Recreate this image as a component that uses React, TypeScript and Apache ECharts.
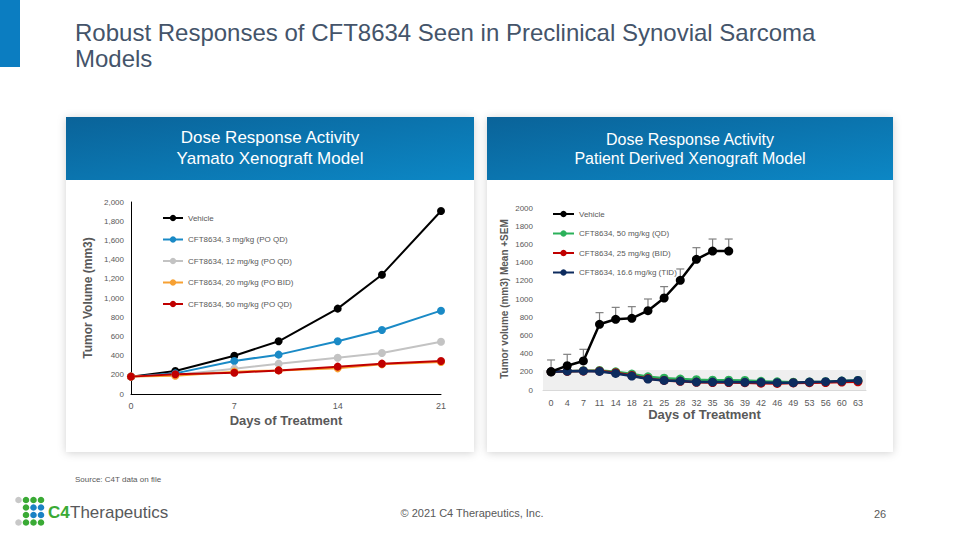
import React, { useEffect, useRef } from "react";
import * as echarts from "echarts";

// ---------- Left chart (Yamato Xenograft) ----------
const leftDays = [0, 3, 7, 10, 14, 17, 21];
const leftVehicle = [181, 240, 399, 549, 889, 1243, 1906];
const left3mg = [181, 215, 344, 410, 549, 667, 868];
const left12mg = [181, 198, 264, 316, 378, 427, 545];
const left20mg = [181, 191, 233, 246, 267, 309, 333];
const left50mg = [181, 205, 222, 246, 285, 316, 344];
const leftNames = [
  "Vehicle",
  "CFT8634, 3 mg/kg (PO QD)",
  "CFT8634, 12 mg/kg (PO QD)",
  "CFT8634, 20 mg/kg (PO BID)",
  "CFT8634, 50 mg/kg (PO QD)",
];
const leftColors = ["#000000", "#1a8ac6", "#c3c3c3", "#f7a133", "#c00000"];

// ---------- Right chart (PDX) ----------
const rightDays = ["0", "4", "7", "11", "14", "18", "21", "25", "28", "32", "35", "36", "39", "42", "46", "49", "53", "56", "60", "63"];
const rightVehicle = [201, 267, 319, 722, 777, 788, 872, 1011, 1205, 1436, 1527, 1527];
const rightVehicleUpper = [330, 392, 447, 850, 908, 916, 1000, 1136, 1330, 1564, 1659, 1659];
const right50QD = [200, 207, 212, 215, 200, 175, 145, 130, 120, 113, 108, 108, 105, 95, 90, 85, 88, 92, 98, 105];
const right25BID = [200, 205, 208, 208, 190, 160, 125, 105, 95, 85, 82, 82, 80, 75, 72, 78, 80, 82, 88, 90];
const right16TID = [200, 207, 210, 204, 182, 153, 120, 105, 98, 87, 87, 87, 84, 84, 80, 80, 87, 91, 98, 105];
const rightNames = ["Vehicle ", "CFT8634, 50 mg/kg (QD)", "CFT8634, 25 mg/kg (BID)", "CFT8634, 16.6 mg/kg (TID)"];
const rightColors = ["#000000", "#2bb15a", "#c00000", "#0d2b5e"];
const shadedBand = [0, 220];

const gray = "#595959";

export default function App() {
  const ref = useRef<HTMLDivElement>(null);

  useEffect(() => {
    if (!ref.current) return;
    const chart = echarts.init(ref.current, undefined, { renderer: "svg" });

    const headerGrad = new echarts.graphic.LinearGradient(0, 0, 1, 1, [
      { offset: 0, color: "#0a6399" },
      { offset: 1, color: "#0c87c5" },
    ]);

    const logoDots: any[] = [];
    const dotRows = [
      ["#c8c8c8", "#3aaa35", "#3aaa35", "#3aaa35"],
      [null, "#3aaa35", "#1a82c4", "#1a82c4"],
      [null, "#3aaa35", "#1a82c4", "#1a82c4"],
      ["#c8c8c8", "#3aaa35", "#3aaa35", "#3aaa35"],
    ];
    dotRows.forEach((row, r) =>
      row.forEach((c, ci) => {
        if (!c) return;
        logoDots.push({
          type: "circle",
          shape: { cx: 18.5 + ci * 7.5, cy: 500 + r * 7.5, r: 3.3 },
          style: { fill: c },
        });
      })
    );

    const leftSeries = [leftVehicle, left3mg, left12mg, left20mg, left50mg].map((vals, i) => ({
      name: leftNames[i],
      type: "line",
      xAxisIndex: 0,
      yAxisIndex: 0,
      data: vals.map((v, k) => [leftDays[k], v]),
      symbol: "circle",
      symbolSize: 8,
      lineStyle: { width: 2, color: leftColors[i] },
      itemStyle: { color: leftColors[i] },
    }));

    const rightLineSeries = [rightVehicle, right50QD, right25BID, right16TID].map((vals, i) => ({
      name: rightNames[i],
      type: "line",
      xAxisIndex: 1,
      yAxisIndex: 1,
      data: vals,
      symbol: "circle",
      symbolSize: 9,
      z: i === 0 ? 5 : 3 + i * 0.1,
      lineStyle: { width: 2.5, color: rightColors[i] },
      itemStyle: { color: rightColors[i] },
      markArea:
        i === 1
          ? {
              silent: true,
              itemStyle: { color: "#efefef" },
              data: [[{ yAxis: shadedBand[0] }, { yAxis: shadedBand[1] }]],
            }
          : undefined,
    }));

    const errorSeries = {
      type: "custom",
      xAxisIndex: 1,
      yAxisIndex: 1,
      z: 2,
      silent: true,
      encode: { x: 0, y: [1, 2] },
      data: rightVehicle.map((v, k) => [k, v, rightVehicleUpper[k]]),
      renderItem: (params: any, api: any) => {
        const x = api.value(0);
        const p0 = api.coord([x, api.value(1)]);
        const p1 = api.coord([x, api.value(2)]);
        const st = { stroke: "#808080", lineWidth: 1.2 };
        return {
          type: "group",
          children: [
            { type: "line", shape: { x1: p0[0], y1: p0[1], x2: p1[0], y2: p1[1] }, style: st },
            { type: "line", shape: { x1: p1[0] - 4, y1: p1[1], x2: p1[0] + 4, y2: p1[1] }, style: st },
          ],
        };
      },
    };

    const option: any = {
      animation: false,
      backgroundColor: "#ffffff",
      textStyle: { fontFamily: "Liberation Sans, Arial, sans-serif" },
      graphic: [
        { type: "rect", shape: { x: 0, y: 0, width: 20, height: 67 }, style: { fill: "#0b7dc1" }, z: -10 },
        {
          type: "text",
          x: 75,
          y: 19,
          style: {
            text: "Robust Responses of CFT8634 Seen in Preclinical Synovial Sarcoma\nModels",
            fill: "#44546a",
            font: "24px Liberation Sans, Arial, sans-serif",
            lineHeight: 26,
          },
          z: -10,
        },
        // panels
        {
          type: "rect",
          shape: { x: 66, y: 117, width: 408, height: 335 },
          style: { fill: "#ffffff", shadowBlur: 8, shadowColor: "rgba(0,0,0,0.18)", shadowOffsetY: 1 },
          z: -20,
        },
        {
          type: "rect",
          shape: { x: 487, y: 117, width: 406, height: 335 },
          style: { fill: "#ffffff", shadowBlur: 8, shadowColor: "rgba(0,0,0,0.18)", shadowOffsetY: 1 },
          z: -20,
        },
        { type: "rect", shape: { x: 66, y: 117, width: 408, height: 63 }, style: { fill: headerGrad }, z: -15 },
        { type: "rect", shape: { x: 487, y: 117, width: 406, height: 63 }, style: { fill: headerGrad }, z: -15 },
        {
          type: "text",
          x: 270,
          y: 148,
          style: {
            text: "Dose Response Activity\nYamato Xenograft Model",
            fill: "#ffffff",
            font: "17px Liberation Sans, Arial, sans-serif",
            lineHeight: 21,
            align: "center",
            verticalAlign: "middle",
          },
          z: -14,
        },
        {
          type: "text",
          x: 690,
          y: 149,
          style: {
            text: "Dose Response Activity\nPatient Derived Xenograft Model",
            fill: "#ffffff",
            font: "16px Liberation Sans, Arial, sans-serif",
            lineHeight: 19,
            align: "center",
            verticalAlign: "middle",
          },
          z: -14,
        },
        // footer
        {
          type: "text",
          x: 75,
          y: 479,
          style: { text: "Source: C4T data on file", fill: gray, font: "8px Liberation Sans, Arial, sans-serif", verticalAlign: "middle" },
        },
        {
          type: "text",
          x: 472,
          y: 513,
          style: {
            text: "© 2021 C4 Therapeutics, Inc.",
            fill: gray,
            font: "11px Liberation Sans, Arial, sans-serif",
            align: "center",
            verticalAlign: "middle",
          },
        },
        {
          type: "text",
          x: 880,
          y: 514,
          style: { text: "26", fill: gray, font: "11px Liberation Sans, Arial, sans-serif", align: "center", verticalAlign: "middle" },
        },
        ...logoDots,
        {
          type: "text",
          x: 48,
          y: 512,
          style: {
            text: "C4",
            fill: "#3aaa35",
            font: "bold 17px Liberation Sans, Arial, sans-serif",
            verticalAlign: "middle",
          },
        },
        {
          type: "text",
          x: 70,
          y: 512,
          style: {
            text: "Therapeutics",
            fill: "#58595b",
            font: "17px Liberation Sans, Arial, sans-serif",
            verticalAlign: "middle",
          },
        },
      ],
      legend: [
        {
          data: leftNames,
          orient: "vertical",
          left: 157,
          top: 209,
          itemWidth: 20,
          itemHeight: 8,
          itemGap: 13.5,
          textStyle: { fontSize: 8, color: gray },
          selectedMode: false,
        },
        {
          data: rightNames,
          orient: "vertical",
          left: 547,
          top: 205,
          itemWidth: 21,
          itemHeight: 8,
          itemGap: 11.5,
          textStyle: { fontSize: 8, color: gray },
          selectedMode: false,
        },
      ],
      grid: [
        { left: 131, top: 202, width: 310, height: 192 },
        { left: 543, top: 208, width: 323, height: 182 },
      ],
      xAxis: [
        {
          gridIndex: 0,
          type: "value",
          min: 0,
          max: 21,
          interval: 7,
          axisLine: { lineStyle: { color: "#000000", width: 1 } },
          axisTick: { show: false },
          splitLine: { show: false },
          axisLabel: { color: gray, fontSize: 9, margin: 7 },
          name: "Days of Treatment",
          nameLocation: "middle",
          nameGap: 20,
          nameTextStyle: { color: gray, fontSize: 13, fontWeight: "bold" },
        },
        {
          gridIndex: 1,
          type: "category",
          data: rightDays,
          boundaryGap: true,
          axisLine: { lineStyle: { color: "#d9d9d9", width: 1 } },
          axisTick: { show: false },
          splitLine: { show: false },
          axisLabel: { color: gray, fontSize: 9, margin: 8, interval: 0 },
          name: "Days of Treatment",
          nameLocation: "middle",
          nameGap: 17,
          nameTextStyle: { color: gray, fontSize: 13, fontWeight: "bold" },
        },
      ],
      yAxis: [
        {
          gridIndex: 0,
          type: "value",
          min: 0,
          max: 2000,
          interval: 200,
          axisLine: { show: true, lineStyle: { color: "#000000", width: 1 } },
          axisTick: { show: false },
          splitLine: { show: false },
          axisLabel: {
            color: gray,
            fontSize: 8,
            margin: 7,
            formatter: (v: number) => v.toLocaleString("en-US"),
          },
          name: "Tumor Volume (mm3)",
          nameLocation: "middle",
          nameGap: 37,
          nameTextStyle: { color: gray, fontSize: 12, fontWeight: "bold" },
        },
        {
          gridIndex: 1,
          type: "value",
          min: 0,
          max: 2000,
          interval: 200,
          axisLine: { show: false },
          axisTick: { show: false },
          splitLine: { show: false },
          axisLabel: { color: gray, fontSize: 8, margin: 10, formatter: (v: number) => String(v) },
          name: "Tumor volume (mm3) Mean +SEM",
          nameLocation: "middle",
          nameGap: 34,
          nameTextStyle: { color: gray, fontSize: 10, fontWeight: "bold" },
        },
      ],
      series: [...leftSeries, errorSeries, ...rightLineSeries],
    };

    chart.setOption(option);
    return () => chart.dispose();
  }, []);

  return (
    <div
      ref={ref}
      style={{ position: "absolute", left: 0, top: 0, width: 960, height: 540, background: "#ffffff" }}
    />
  );
}
